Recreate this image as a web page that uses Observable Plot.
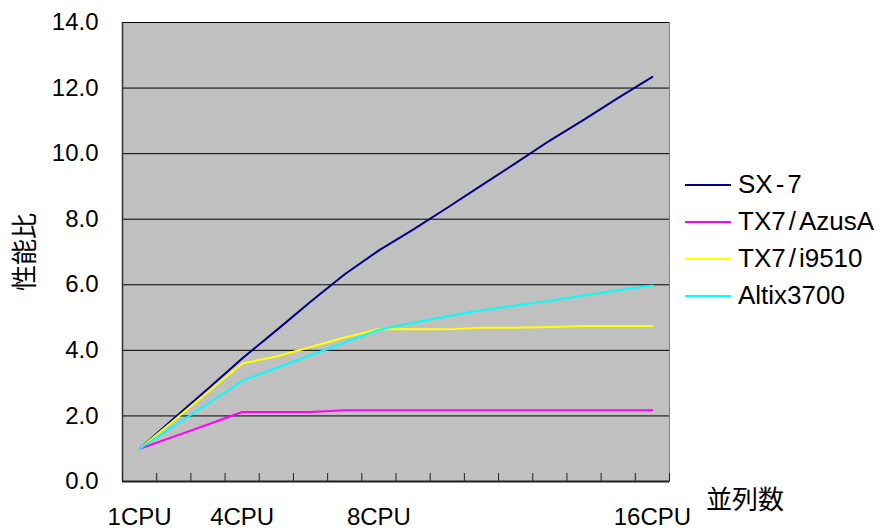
<!DOCTYPE html>
<html>
<head>
<meta charset="utf-8">
<script src="https://cdn.jsdelivr.net/npm/d3@7"></script>
<script src="https://cdn.jsdelivr.net/npm/@observablehq/plot@0.6"></script>
<style>
  html, body { margin: 0; padding: 0; background: #fff; }
  #wrap { position: relative; width: 881px; height: 528px; overflow: hidden; font-family: "Liberation Sans", Arial, sans-serif; }
  #legend { position: absolute; left: 685px; top: 166px; }
  .item { display: flex; align-items: center; height: 37px; }
  .swatch { width: 46px; height: 2px; margin-right: 7px; }
  .lbl { font-size: 26px; color: #000; white-space: nowrap; }
  .sep { margin: 0 3px; }
  #ytitle { position: absolute; left: 23px; top: 252px; transform: translate(-50%, -50%) rotate(-90deg); font-family: "Noto Sans CJK JP", sans-serif; font-size: 26px; white-space: nowrap; line-height: 1; }
  #xtitle { position: absolute; left: 706px; top: 484px; font-family: "Noto Sans CJK JP", sans-serif; font-size: 26px; white-space: nowrap; line-height: 1.1; }
</style>
</head>
<body>
<div id="wrap"></div>
<script>
// Categories: number of CPUs (1..16)
const cpus = [1, 2, 3, 4, 5, 6, 7, 8, 9, 10, 11, 12, 13, 14, 15, 16];
const xLabels = {1: "1CPU", 4: "4CPU", 8: "8CPU", 16: "16CPU"};

// Series values (performance ratio)
const sx7     = [1.0, 1.92, 2.83, 3.75, 4.61, 5.48, 6.32, 7.05, 7.68, 8.35, 9.03, 9.71, 10.40, 11.04, 11.70, 12.34];
const azusA   = [1.0, 1.37, 1.74, 2.12, 2.12, 2.12, 2.17, 2.17, 2.17, 2.17, 2.17, 2.17, 2.17, 2.17, 2.17, 2.17];
const i9510   = [1.0, 1.86, 2.73, 3.60, 3.81, 4.10, 4.39, 4.65, 4.64, 4.64, 4.69, 4.69, 4.71, 4.74, 4.74, 4.74];
const altix   = [1.0, 1.69, 2.38, 3.07, 3.46, 3.85, 4.24, 4.63, 4.84, 5.04, 5.22, 5.37, 5.51, 5.67, 5.83, 5.98];

const seriesNames  = ["SX-7", "TX7/AzusA", "TX7/i9510", "Altix3700"];
const seriesValues = [sx7, azusA, i9510, altix];
const seriesColors = ["#000080", "#ff00ff", "#ffff00", "#00ffff"];

const yTicks = [0, 2, 4, 6, 8, 10, 12, 14];

const data = seriesNames.flatMap((name, i) =>
  cpus.map((c, j) => ({series: name, cpu: c, value: seriesValues[i][j]})));

// category boundaries for tick marks
const bounds = [0.5, ...cpus.map(c => c + 0.5)];

const chart = Plot.plot({
  width: 881,
  height: 528,
  marginLeft: 122,
  marginRight: 212,
  marginTop: 22,
  marginBottom: 47,
  style: {fontFamily: "'Liberation Sans', Arial, sans-serif", background: "transparent"},
  x: {domain: [0.5, 16.5], axis: null, label: null},
  y: {domain: [0, 14], axis: null, label: null},
  marks: [
    Plot.frame({fill: "#c0c0c0", stroke: "#808080"}),
    Plot.gridY(yTicks, {stroke: "#000", strokeOpacity: 1, strokeWidth: 1}),
    Plot.ruleX([0.5], {stroke: "#303030", strokeWidth: 1.5}),
    Plot.ruleY([0], {stroke: "#202020", strokeWidth: 2}),
    Plot.tickX(bounds, {x: d => d, stroke: "#202020", strokeWidth: 1, insetTop: 451}),
    Plot.axisY(yTicks, {tickSize: 0, tickPadding: 24, tickFormat: d3.format(".1f"), fontSize: 24, fill: "#000", label: null}),
    Plot.axisX(Object.keys(xLabels).map(Number), {tickSize: 0, tickPadding: 8, tickFormat: d => xLabels[d], fontSize: 24, fill: "#000", dy: 18, label: null}),
    ...seriesNames.map((name, i) =>
      Plot.line(data.filter(d => d.series === name), {x: "cpu", y: "value", stroke: seriesColors[i], strokeWidth: 2, strokeLinejoin: "round"}))
  ]
});

const wrap = document.getElementById("wrap");
wrap.appendChild(chart);

// Legend
const legend = document.createElement("div");
legend.id = "legend";
seriesNames.forEach((name, i) => {
  const item = document.createElement("div");
  item.className = "item";
  const sw = document.createElement("div");
  sw.className = "swatch";
  sw.style.background = seriesColors[i];
  const lb = document.createElement("span");
  lb.className = "lbl";
  // widen separators slightly, as in the original's font
  const parts = name.split(/([\/-])/);
  parts.forEach(p => {
    if (p === "/" || p === "-") {
      const s = document.createElement("span");
      s.className = "sep";
      s.textContent = p;
      lb.appendChild(s);
    } else {
      lb.appendChild(document.createTextNode(p));
    }
  });
  item.appendChild(sw);
  item.appendChild(lb);
  legend.appendChild(item);
});
wrap.appendChild(legend);

const yt = document.createElement("div");
yt.id = "ytitle";
yt.textContent = "性能比";
wrap.appendChild(yt);

const xt = document.createElement("div");
xt.id = "xtitle";
xt.textContent = "並列数";
wrap.appendChild(xt);
</script>
</body>
</html>
